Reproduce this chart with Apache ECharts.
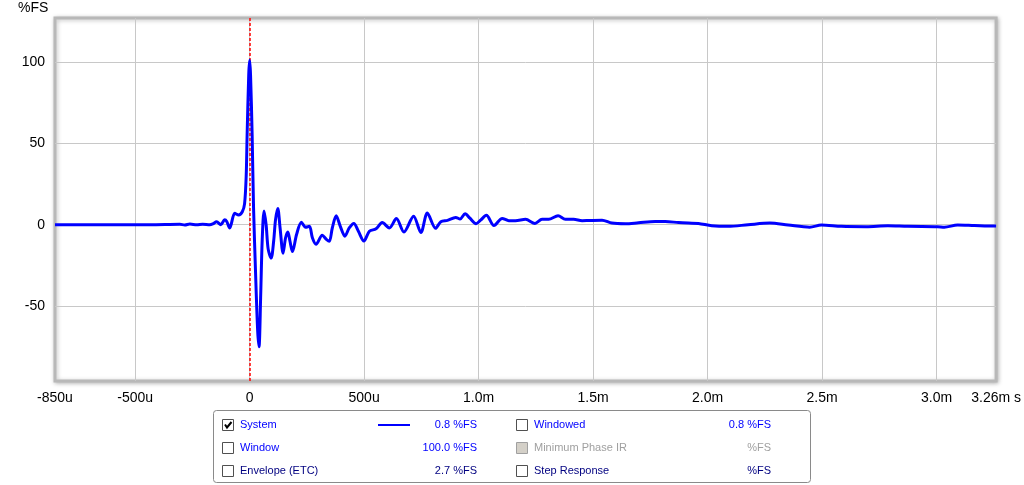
<!DOCTYPE html>
<html>
<head>
<meta charset="utf-8">
<script src="https://cdn.jsdelivr.net/npm/echarts@6/dist/echarts.min.js"></script>
<style>
html,body{margin:0;padding:0;background:#fff;}
#chart{width:1024px;height:485px;}
</style>
</head>
<body>
<div id="chart"></div>
<script>
// Time in microseconds
const timeUs = [-850, -435, -305, -283, -261, -231, -205, -174, -161, -144, -126, -109, -100, -87, -65, -48, -32, -22, -15, -11, -4, 0, 4, 11, 17, 26, 35, 41, 48, 55, 63, 72, 81, 94, 105, 113, 123, 133, 146, 157, 167, 176, 187, 205, 226, 244, 261, 274, 290, 317, 335, 348, 361, 378, 396, 416, 435, 455, 475, 499, 523, 552, 579, 610, 641, 674, 716, 748, 776, 812, 835, 864, 900, 919, 941, 962, 989, 1010, 1034, 1067, 1103, 1132, 1161, 1205, 1246, 1277, 1306, 1347, 1379, 1415, 1452, 1481, 1539, 1582, 1641, 1698, 1771, 1815, 1873, 1916, 1960, 2018, 2090, 2177, 2272, 2352, 2446, 2497, 2584, 2693, 2787, 2874, 3005, 3034, 3092, 3165, 3253, 3260];
// System impulse response, %FS
const systemPct = [0, 0, 0.3, -0.2, 0.4, 0, 0.3, 0, 0.5, 1.8, 0, 3, 2, -2, 7, 6, 8, 13, 30, 55, 92, 101, 92, 55, 11, -30, -65, -75, -45, -9, 8.5, 0, -15, -20.5, -10, 3, 10, -2, -17.5, -8, -4.5, -10, -16.5, -6, 1.5, -1.5, -1, -8, -12, -6.5, -9, -10.2, -2, 5.5, -1, -7, -2, 0.8, -4, -10, -4, -2.5, 1.3, -2, 3.8, -4.5, 5.2, -4.8, 7.2, -2.2, 1.8, 2.7, 4.5, 3.5, 6.8, 4, 0.6, 3, 5.8, -0.5, 3.9, 2.5, 2.5, 3.3, 0.8, 3.3, 3.3, 5.5, 3.3, 3.3, 2.5, 2.6, 2.8, 1, 0.6, 1.2, 2, 2, 1.3, 1, 0.8, -0.6, -1, 0, 1, -0.2, -1.5, -0.2, -1, -1.2, -0.6, -1, -1.2, -1.5, -0.2, -0.5, -0.8, -0.8];
const xTickLabels = [-850, -500, 0, 500, 1000, 1500, 2000, 2500, 3000, 3260];
const xGridTicks = [-500, 0, 500, 1000, 1500, 2000, 2500, 3000];
const yTickLabels = [-50, 0, 50, 100];

// Legend rows: [label, value, color, checked, disabled]
const legendCol1 = [
  ['System', '0.8 %FS', '#0000ff', true, false],
  ['Window', '100.0 %FS', '#0000ff', false, false],
  ['Envelope (ETC)', '2.7 %FS', '#000080', false, false]
];
const legendCol2 = [
  ['Windowed', '0.8 %FS', '#0000ff', false, false],
  ['Minimum Phase IR', '%FS', '#a0a0a0', false, true],
  ['Step Response', '%FS', '#000080', false, false]
];

const FONT = '"Liberation Sans", Arial, sans-serif';

function fmtX(v) {
  if (v === 3260) return '3.26m s';
  if (v === 0) return '0';
  if (Math.abs(v) < 1000) return v + 'u';
  return (v / 1000).toFixed(1) + 'm';
}

const chart = echarts.init(document.getElementById('chart'), null, {renderer: 'canvas'});

// Legend graphics
const g = [];
g.push({type: 'text', left: 18, top: 1, style: {text: '%FS', font: '14px ' + FONT, fill: '#000'}});
g.push({type: 'rect', shape: {x: 213.5, y: 410.5, width: 597, height: 72, r: 3}, style: {fill: '#fff', stroke: '#8a8a8a', lineWidth: 1}, z: 10});
const rowY = [425, 448, 471];
function addCol(rows, cbX, textX, valRight) {
  rows.forEach((r, i) => {
    const cy = rowY[i];
    g.push({type: 'rect', shape: {x: cbX + 0.5, y: cy - 5.5, width: 11, height: 11}, style: {fill: r[4] ? '#d4d0c8' : '#fff', stroke: r[4] ? '#a0a0a0' : '#505050', lineWidth: 1}, z: 11});
    if (r[3]) {
      g.push({type: 'polyline', shape: {points: [[cbX + 3, cy - 0.5], [cbX + 5, cy + 2.5], [cbX + 9.5, cy - 3]]}, style: {stroke: '#000', lineWidth: 2, fill: null}, z: 12});
    }
    g.push({type: 'text', x: textX, y: cy, style: {text: r[0], font: '11px ' + FONT, fill: r[2], textVerticalAlign: 'middle', textAlign: 'left'}, z: 11});
    g.push({type: 'text', x: valRight, y: cy, style: {text: r[1], font: '11px ' + FONT, fill: r[2], textVerticalAlign: 'middle', textAlign: 'right'}, z: 11});
  });
}
addCol(legendCol1, 222, 240, 477);
addCol(legendCol2, 516, 534, 771);
g.push({type: 'line', shape: {x1: 378, y1: 425, x2: 410, y2: 425}, style: {stroke: '#0000ff', lineWidth: 2}, z: 11});

const option = {
  animation: false,
  backgroundColor: '#fff',
  grid: {
    left: 55, right: 26, top: 18, bottom: 104,
    show: true, backgroundColor: '#fff',
    borderColor: '#b8b8b8', borderWidth: 3,
    shadowBlur: 4, shadowColor: 'rgba(0,0,0,0.25)', shadowOffsetX: 1, shadowOffsetY: 1
  },
  xAxis: {
    type: 'value', min: -850, max: 3260,
    axisLine: {show: false},
    axisTick: {show: false, customValues: xGridTicks},
    axisLabel: {customValues: xTickLabels, formatter: fmtX, margin: 10, color: '#000', fontSize: 14, fontFamily: FONT, hideOverlap: false},
    splitLine: {show: true, lineStyle: {color: '#c8c8c8', width: 1}}
  },
  yAxis: {
    type: 'value', min: -96, max: 127,
    axisLine: {show: false},
    axisTick: {show: false, customValues: yTickLabels},
    axisLabel: {customValues: yTickLabels, margin: 10, color: '#000', fontSize: 14, fontFamily: FONT},
    splitLine: {show: true, lineStyle: {color: '#c8c8c8', width: 1}}
  },
  series: [
    {
      type: 'line', data: [], silent: true, z: 1,
      markLine: {
        silent: true, z: 1, symbol: ['none', 'none'], label: {show: false},
        lineStyle: {color: '#ff0000', type: [3, 2], width: 1.5, opacity: 1},
        emphasis: {disabled: true},
        data: [{xAxis: 0}]
      }
    },
    {
      type: 'line', name: 'System', z: 3,
      data: timeUs.map((t, i) => [t, systemPct[i]]),
      showSymbol: false, smooth: 0.3,
      lineStyle: {color: '#0000ff', width: 3},
      itemStyle: {color: '#0000ff'}
    }
  ],
  graphic: g
};
chart.setOption(option);
</script>
</body>
</html>
